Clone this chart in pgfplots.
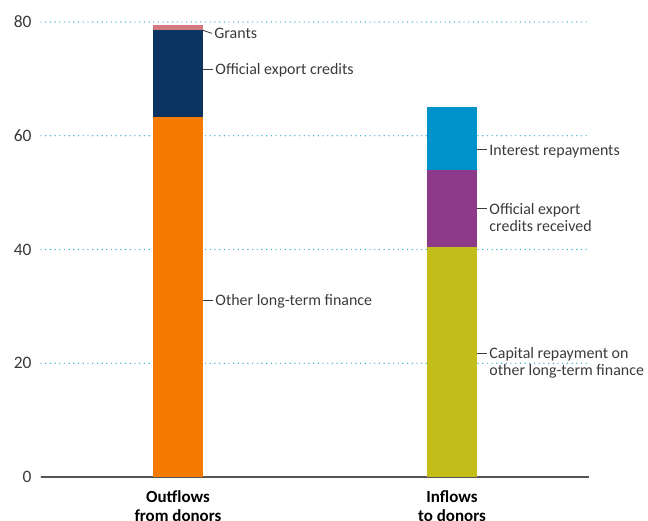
\documentclass[border=0pt]{standalone}
\usepackage{pgfplots}
\pgfplotsset{compat=1.18}
\usepackage{fontspec}
\setmainfont{Carlito}
\definecolor{cOrange}{HTML}{F47A00}
\definecolor{cNavy}{HTML}{0B3560}
\definecolor{cPink}{HTML}{D27A80}
\definecolor{cOlive}{HTML}{C3BD1A}
\definecolor{cPurple}{HTML}{8E3A8A}
\definecolor{cBlue}{HTML}{0093C9}
\definecolor{cGrid}{HTML}{2FA8DA}
\definecolor{cText}{HTML}{3A3A3A}
\definecolor{cAxis}{HTML}{555555}
\tikzset{lab/.style={anchor=base west, yshift=-5.6bp, inner xsep=2bp, text=cText, align=left, font=\fontsize{16}{17.3}\selectfont},
  lab2/.style={lab, yshift=-17.3bp},
  lead/.style={cText, line width=0.8bp}}
\begin{document}
\begin{tikzpicture}
\path[use as bounding box] (-41bp,-44bp) rectangle (607bp,477bp);
\begin{axis}[
  at={(0,0)}, anchor=south west,
  scale only axis, width=548bp, height=455bp,
  xmin=-0.5, xmax=1.5, ymin=0, ymax=80,
  ybar stacked, bar width=0.1825,
  clip=false,
  axis x line*=bottom, axis y line*=left,
  x axis line style={draw=cAxis, line width=1.4bp, -},
  y axis line style={draw=none},
  tick style={draw=none},
  ytick={0,20,40,60,80},
  xtick={0,1},
  xticklabels={Outflows\\from donors, Inflows\\to donors},
  xticklabel style={font=\fontsize{17}{19}\selectfont\bfseries, align=center, text=black, yshift=-10bp},
  yticklabel style={font=\fontsize{17.5}{18}\selectfont, text=cText, xshift=-6bp},
  /pgf/number format/assume math mode=true,
  ymajorgrids,
  y grid style={color=cGrid, line width=1.4bp, line cap=round, dash pattern=on 0bp off 4.7bp},
]
\addplot[fill=cOrange, draw=none] coordinates {(0,63.3) (1,0)};
\addplot[fill=cNavy, draw=none] coordinates {(0,15.3) (1,0)};
\addplot[fill=cPink, draw=none] coordinates {(0,0.9) (1,0)};
\addplot[fill=cOlive, draw=none] coordinates {(0,0) (1,40.5)};
\addplot[fill=cPurple, draw=none] coordinates {(0,0) (1,13.4)};
\addplot[fill=cBlue, draw=none] coordinates {(0,0) (1,11.2)};

\draw[lead] (axis cs:0.069,78.9) -- (axis cs:0.124,78.0) node[lab] {Grants};
\draw[lead] (axis cs:0.069,71.7) -- (axis cs:0.128,71.7) node[lab] {Official export credits};
\draw[lead] (axis cs:0.069,31.1) -- (axis cs:0.128,31.1) node[lab] {Other long-term finance};
\draw[lead] (axis cs:1.073,57.6) -- (axis cs:1.128,57.6) node[lab] {Interest repayments};
\draw[lead] (axis cs:1.073,47.2) -- (axis cs:1.128,47.2) node[lab2] {Official export\\credits received};
\draw[lead] (axis cs:1.073,21.8) -- (axis cs:1.128,21.8) node[lab2] {Capital repayment on\\other long-term finance};
\end{axis}
\end{tikzpicture}
\end{document}
